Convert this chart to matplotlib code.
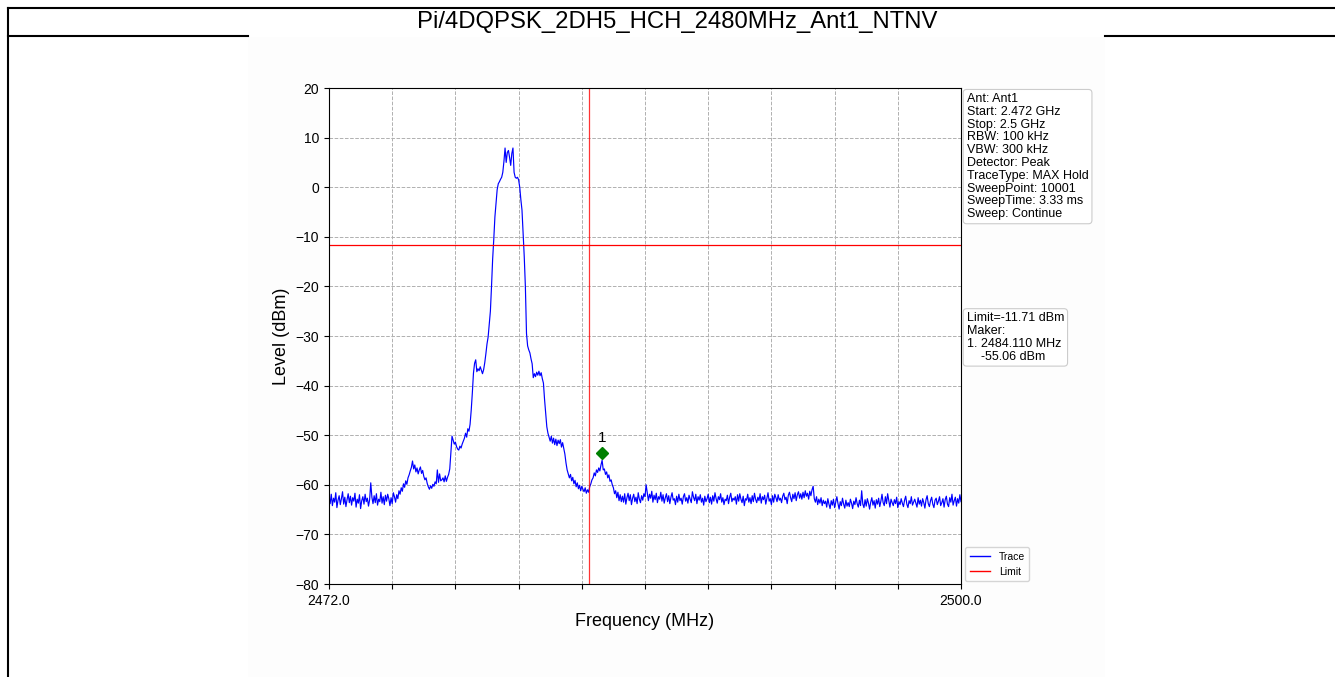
import numpy as np
import matplotlib
matplotlib.use("Agg")
import matplotlib.pyplot as plt
from matplotlib.lines import Line2D

plt.rcParams["font.family"] = ["Liberation Sans", "DejaVu Sans"]

title = "Pi/4DQPSK_2DH5_HCH_2480MHz_Ant1_NTNV"

# sweep 2472 .. 2500 MHz, one row per MHz, 0.05 MHz step
start_mhz = 2472.0
stop_mhz = 2500.0
level_rows = [
    [-62.4, -63.8, -61.9, -64.2, -62.7, -63.5, -61.6, -64.6, -63.1, -62.2, -64.0, -62.8, -61.4, -63.9, -62.5, -64.4, -63.0, -61.8, -63.6, -62.3],
    [-64.1, -62.6, -63.3, -61.7, -64.5, -62.9, -63.7, -62.0, -64.8, -63.2, -62.4, -63.9, -61.9, -63.4, -62.7, -64.3, -63.0, -59.6, -62.5, -63.8],
    [-62.2, -63.6, -61.8, -64.1, -62.9, -63.4, -61.5, -63.7, -62.4, -64.0, -62.1, -63.3, -61.9, -62.8, -64.2, -62.6, -63.8, -61.6, -62.4, -63.5],
    [-62.0, -62.8, -61.2, -61.9, -60.6, -61.3, -59.8, -60.5, -59.2, -59.9, -58.6, -58.0, -57.2, -56.5, -55.2, -56.8, -56.0, -57.4, -56.6, -57.8],
    [-57.0, -56.4, -57.7, -57.1, -58.3, -59.0, -58.6, -59.7, -60.4, -60.9, -60.2, -60.7, -59.9, -60.3, -59.4, -59.8, -57.0, -59.5, -57.8, -59.2],
    [-59.0, -58.6, -59.4, -58.2, -59.3, -58.5, -57.9, -56.8, -53.5, -50.2, -51.0, -51.8, -51.4, -52.3, -52.8, -53.0, -52.2, -52.6, -51.8, -51.2],
    [-50.6, -49.6, -50.4, -48.7, -49.2, -47.8, -45.0, -41.5, -37.5, -35.5, -34.8, -37.2, -36.6, -37.0, -36.2, -36.9, -37.6, -36.8, -35.4, -33.6],
    [-31.6, -30.2, -27.5, -25.0, -20.0, -14.5, -10.5, -6.0, -3.3, -0.5, 0.7, 1.1, 1.6, 2.0, 3.0, 5.2, 7.9, 5.0, 7.0, 7.4],
    [6.0, 4.4, 6.8, 7.9, 3.0, 2.0, 1.8, 2.0, 1.5, 0.0, -2.5, -4.6, -9.2, -14.0, -20.0, -29.5, -32.0, -32.8, -33.4, -34.6],
    [-35.6, -38.4, -37.6, -38.2, -37.3, -37.9, -37.1, -38.0, -37.4, -38.6, -39.5, -42.8, -45.6, -48.3, -49.6, -50.4, -51.2, -50.2, -51.6, -50.6],
    [-51.9, -50.8, -52.1, -51.0, -51.7, -50.9, -52.4, -51.5, -52.6, -53.8, -55.6, -57.0, -57.8, -58.6, -57.9, -59.2, -58.5, -59.8, -59.1, -60.4],
    [-59.6, -60.8, -60.1, -61.2, -60.3, -60.9, -61.4, -60.6, -61.7, -61.0, -61.5, -60.4, -59.8, -59.0, -58.6, -57.6, -58.2, -57.0, -57.5, -56.6],
    [-57.2, -56.0, -55.06, -57.0, -56.8, -57.9, -57.4, -58.6, -58.0, -59.3, -59.0, -60.0, -60.6, -61.8, -61.2, -62.6, -61.5, -63.2, -62.0, -63.4],
    [-62.3, -63.5, -61.8, -63.9, -62.6, -61.7, -63.2, -62.0, -64.0, -62.7, -61.9, -63.4, -62.5, -63.8, -61.6, -62.9, -63.6, -62.2, -63.1, -61.8],
    [-62.4, -60.0, -61.6, -63.2, -61.9, -62.7, -61.3, -63.5, -62.1, -63.0, -61.7, -63.6, -62.4, -62.9, -61.5, -63.3, -62.0, -63.7, -62.6, -61.8],
    [-63.4, -62.2, -63.8, -62.5, -61.6, -63.1, -62.8, -64.0, -62.3, -63.5, -61.9, -63.2, -62.7, -63.9, -62.4, -61.8, -63.3, -62.6, -63.7, -62.1],
    [-62.9, -63.6, -61.4, -62.5, -63.2, -61.9, -63.8, -62.4, -63.1, -62.0, -63.5, -62.7, -64.1, -62.3, -63.4, -62.8, -61.9, -63.6, -62.5, -63.9],
    [-62.2, -63.3, -61.6, -62.8, -63.7, -62.4, -63.0, -61.8, -63.5, -62.6, -64.0, -62.9, -63.2, -62.1, -63.8, -62.5, -61.7, -63.4, -62.7, -63.1],
    [-62.4, -63.9, -62.0, -63.3, -61.8, -62.9, -63.6, -62.3, -64.2, -62.8, -63.1, -61.9, -63.5, -62.6, -63.8, -62.2, -63.4, -61.7, -62.9, -63.6],
    [-62.5, -63.2, -61.8, -63.7, -62.4, -63.0, -62.1, -63.9, -62.7, -61.6, -63.3, -62.8, -64.0, -62.2, -63.5, -61.9, -62.6, -63.4, -62.0, -63.1],
    [-62.7, -63.6, -62.3, -61.7, -63.0, -62.5, -63.8, -62.1, -61.5, -62.6, -63.4, -61.9, -62.8, -61.6, -63.2, -62.0, -61.4, -62.7, -61.8, -62.9],
    [-61.5, -62.6, -61.2, -62.3, -61.7, -62.9, -61.3, -62.2, -61.0, -60.3, -62.8, -63.5, -62.4, -64.0, -62.9, -63.7, -62.6, -64.2, -63.1, -63.8],
    [-63.3, -64.5, -62.8, -63.9, -64.8, -63.2, -64.1, -62.9, -64.6, -63.5, -62.4, -63.8, -64.9, -63.4, -64.2, -62.7, -63.9, -64.7, -63.1, -64.3],
    [-63.6, -64.4, -62.9, -63.7, -64.8, -63.3, -64.0, -62.6, -63.8, -64.5, -63.1, -64.2, -61.2, -63.9, -64.6, -63.0, -64.3, -62.8, -63.7, -64.9],
    [-63.5, -62.6, -64.1, -63.2, -64.7, -63.0, -63.9, -62.7, -64.4, -63.3, -61.9, -63.6, -64.2, -62.4, -63.8, -61.8, -63.1, -64.5, -62.9, -63.6],
    [-64.2, -63.0, -63.8, -62.5, -64.6, -63.4, -64.0, -62.8, -63.7, -64.4, -63.1, -62.3, -63.9, -64.6, -63.2, -63.8, -62.4, -64.1, -63.5, -62.9],
    [-63.7, -64.5, -62.6, -63.9, -63.1, -64.3, -62.8, -63.6, -64.7, -63.0, -62.2, -63.8, -64.4, -63.2, -62.5, -63.9, -64.6, -63.1, -62.7, -64.0],
    [-63.3, -62.4, -64.2, -63.6, -62.8, -64.5, -63.0, -62.3, -63.9, -64.4, -62.6, -63.5, -61.9, -64.1, -63.2, -62.5, -64.3, -62.8, -63.7, -62.0],
    [-63.4],
]
level_dbm = np.concatenate([np.array(r) for r in level_rows])
freq_mhz = np.linspace(start_mhz, stop_mhz, len(level_dbm))

limit_dbm = -11.71
band_edge_mhz = 2483.5
marker_freq = 2484.11
marker_level = -55.06
marker_plot_level = -53.6

y_ticks = [-80, -70, -60, -50, -40, -30, -20, -10, 0, 10, 20]
x_tick_count = 11

settings_text = ("Ant: Ant1\nStart: 2.472 GHz\nStop: 2.5 GHz\nRBW: 100 kHz\nVBW: 300 kHz\n"
                 "Detector: Peak\nTraceType: MAX Hold\nSweepPoint: 10001\nSweepTime: 3.33 ms\n"
                 "Sweep: Continue")
marker_text = f"Limit={limit_dbm} dBm\nMaker:\n1. {marker_freq:.3f} MHz\n    {marker_level} dBm"

W, H = 1335, 677
fig = plt.figure(figsize=(W / 100, H / 100), dpi=100)

# report frame
frame = fig.add_axes([0, 0, 1, 1])
frame.set_xlim(0, W)
frame.set_ylim(H, 0)
frame.axis("off")
frame.plot([8, W], [8, 8], color="black", lw=1.5)
frame.plot([8, 8], [8, H], color="black", lw=1.5)
frame.plot([8, 248], [36, 36], color="black", lw=1.5)
frame.plot([1105, W], [36, 36], color="black", lw=1.5)
frame.add_patch(plt.Rectangle((248, 37), 857, H - 37, facecolor="#fdfdfd", edgecolor="none"))
frame.text(677, 22, title, ha="center", va="center", fontsize=17.2)

ax = fig.add_axes([329 / W, 1 - 584 / H, 632 / W, 496 / H])
ax.set_facecolor("white")
ax.plot(freq_mhz, level_dbm, color="blue", lw=0.85, label="Trace")
ax.axhline(limit_dbm, color="red", lw=0.9, label="Limit")
ax.axvline(band_edge_mhz, color="red", lw=0.9, alpha=0.8)
ax.plot([marker_freq], [marker_plot_level], marker="D", color="green", markersize=6, ls="none")
ax.text(marker_freq, marker_plot_level + 1.6, "1", ha="center", va="bottom", fontsize=11)

ax.set_xlim(start_mhz, stop_mhz)
ax.set_ylim(-80, 20)
xt = np.linspace(start_mhz, stop_mhz, x_tick_count)
ax.set_xticks(xt)
ax.set_xticklabels([f"{v:.1f}" if i in (0, len(xt) - 1) else "" for i, v in enumerate(xt)])
ax.set_yticks(y_ticks)
ax.tick_params(labelsize=10)
ax.grid(True, ls="--", color="#b0b0b0", lw=0.7)
ax.set_xlabel("Frequency (MHz)", fontsize=13)
ax.set_ylabel("Level (dBm)", fontsize=13)

box = dict(boxstyle="round,pad=0.28", facecolor="white", edgecolor="#cccccc", lw=0.8)
ax.text(1.009, 0.99, settings_text, transform=ax.transAxes, ha="left", va="top",
        fontsize=9, linespacing=1.09, bbox=box)
ax.text(1.009, 0.548, marker_text, transform=ax.transAxes, ha="left", va="top",
        fontsize=9, linespacing=1.09, bbox=box)

handles = [Line2D([], [], color="blue", lw=1), Line2D([], [], color="red", lw=1)]
ax.legend(handles, ["Trace", "Limit"], loc="lower left", bbox_to_anchor=(1.002, 0.0),
          fontsize=7.5, frameon=True, borderaxespad=0.3, handlelength=2.0)

fig.savefig("out.png", dpi=100)
